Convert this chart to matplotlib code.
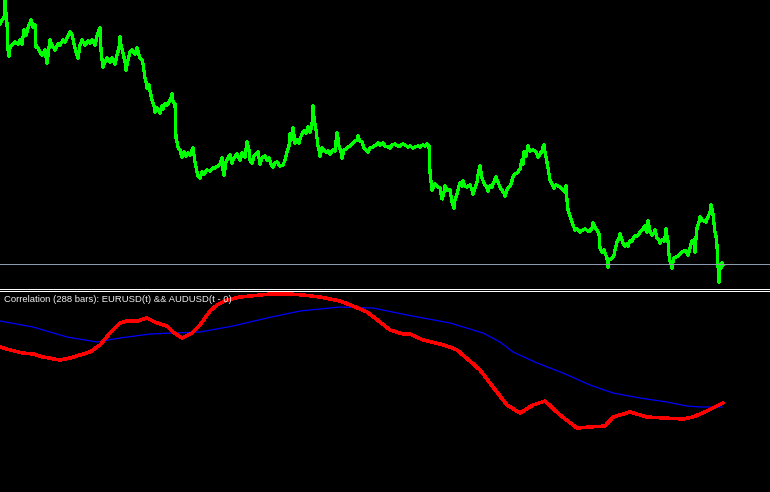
import matplotlib
matplotlib.use("Agg")
import matplotlib.pyplot as plt
from matplotlib.lines import Line2D

# ---- Price series (EURUSD close, expressed in pips above 1.3000) ----
bars = [0,2,4,5,6,7,8,9,10,12,15,18,20,22,24,26,28,31,33,35,36,38,40,42,45,47,49,50,52,55,58,60,63,65,68,70,72,74,75,77,78,80,82,85,88,90,92,95,97,99,
        100,101,102,103,105,107,110,112,115,117,119,120,121,123,125,126,128,130,132,135,137,140,142,143,145,146,147,149,150,152,154,155,157,160,162,163,165,167,169,171,172,173,175,176,177,178,180,182,184,186,188,190,192,193,195,197,198,
        200,202,204,207,210,213,215,218,220,222,223,224,226,228,230,232,234,237,240,242,245,247,249,250,252,254,256,258,260,262,265,267,269,271,273,275,277,280,283,285,287,289,290,291,293,295,297,299,
        300,302,304,306,308,310,312,313,314,316,318,319,320,322,324,326,328,330,333,335,337,338,339,341,342,344,346,348,350,352,355,357,358,360,362,364,366,368,370,373,376,378,380,383,385,388,390,392,395,398,
        400,403,405,408,410,413,415,418,420,423,425,427,429,430,431,432,433,435,437,440,442,444,445,447,450,452,454,455,457,459,460,462,463,465,467,470,472,473,475,477,478,480,481,482,484,486,488,490,492,493,496,498,
        500,502,504,505,507,508,510,511,513,515,517,520,522,523,524,526,528,530,533,536,538,540,542,543,544,545,546,548,550,552,554,556,558,560,563,565,566,567,568,570,572,573,575,577,580,583,585,588,590,592,593,595,597,599,
        600,602,604,605,607,608,609,611,613,614,615,617,619,620,622,623,625,627,628,630,632,633,635,637,639,640,642,643,645,646,647,648,649,650,652,654,655,657,659,660,662,664,665,666,667,668,669,670,671,672,673,674,676,678,680,682,684,686,688,689,690,691,692,694,695,696,697,699,
        700,702,704,706,707,708,710,711,712,713,714,715,716,717,718,719,720,721,722,723]
eurusd_pips = [266,270,272,289,276,266,240,234,242,245,248,246,250,246,260,255,262,270,263,265,243,242,238,235,240,227,242,250,245,240,246,245,250,248,254,258,255,246,242,235,232,245,250,245,249,247,250,245,254,260,
        262,240,230,223,228,232,228,232,226,235,242,253,245,237,228,220,230,238,240,236,242,232,230,226,212,208,202,205,199,190,184,178,182,177,184,181,186,185,188,192,196,189,186,152,148,143,140,133,138,134,137,135,140,142,128,118,114,
        112,118,116,120,119,122,122,124,126,132,120,115,128,132,135,127,132,136,130,137,133,148,140,130,127,134,136,138,126,132,134,130,132,126,123,127,128,124,125,130,138,144,156,150,162,147,150,147,
        151,156,159,157,163,158,165,184,172,160,144,140,134,142,140,138,139,136,140,139,157,152,144,138,132,140,141,143,144,146,149,150,154,149,148,142,140,138,142,143,145,147,145,147,144,143,142,145,146,144,
        144,146,145,143,144,142,143,144,143,145,144,146,144,118,108,100,102,106,104,102,91,98,104,100,100,88,82,90,96,104,107,104,109,104,103,105,100,96,102,108,115,124,118,112,107,104,99,104,103,106,113,108,
        103,100,97,94,100,102,104,106,113,116,117,121,130,126,138,134,144,139,140,138,133,136,139,143,145,138,133,122,110,106,102,105,104,103,100,98,104,90,80,74,68,65,60,61,58,60,61,59,59,62,67,63,60,56,
        42,38,40,37,32,23,30,31,33,35,40,48,52,56,50,47,44,46,44,49,49,51,54,54,56,58,60,61,64,60,58,69,64,59,55,57,60,52,50,47,50,49,52,61,54,49,35,29,27,22,28,32,33,34,36,38,39,39,35,38,42,46,49,50,38,52,62,68,
        73,70,69,68,71,73,78,85,81,76,66,58,54,44,24,8,24,22,27,25]
level_pips = 26

# ---- Correlation indicator ----
red_bars = [0,10,23,33,43,60,70,80,90,100,110,120,127,137,147,157,167,173,182,192,200,210,217,227,240,250,270,290,303,320,340,353,367,380,390,403,410,423,440,450,457,471,480,493,507,520,533,545,560,577,590,605,613,630,647,663,683,693,707,717,723]
red_corr = [0.45,0.42,0.39,0.38,0.35,0.32,0.34,0.37,0.40,0.47,0.59,0.69,0.71,0.71,0.74,0.69,0.66,0.60,0.54,0.59,0.67,0.81,0.87,0.92,0.95,0.96,0.98,0.98,0.97,0.95,0.91,0.86,0.80,0.70,0.62,0.58,0.58,0.52,0.48,0.45,0.42,0.30,0.22,0.05,-0.13,-0.21,-0.13,-0.09,-0.23,-0.36,-0.35,-0.34,-0.25,-0.20,-0.25,-0.26,-0.27,-0.25,-0.19,-0.14,-0.11]
blue_bars = [0,33,67,97,120,150,173,200,233,267,300,340,373,407,450,483,500,513,537,563,590,613,640,667,687,700,722]
blue_corr = [0.71,0.65,0.55,0.50,0.54,0.58,0.59,0.60,0.66,0.74,0.81,0.85,0.84,0.77,0.69,0.59,0.50,0.40,0.29,0.19,0.07,-0.01,-0.06,-0.10,-0.14,-0.15,-0.15]
label = "Correlation (288 bars): EURUSD(t) && AUDUSD(t - 0)"

price = [1.3 + p / 10000 for p in eurusd_pips]
level = 1.3 + level_pips / 10000

W, H = 770, 492
fig = plt.figure(figsize=(W / 100, H / 100), dpi=100, facecolor="black")

ax1 = fig.add_axes([0, 1 - 287 / H, 1, 287 / H])
ax1.set_facecolor("black")
ax1.plot(bars, price, color="#00FF00", lw=1.6, antialiased=False)
ax1.axhline(level, color="#8C9AB0", lw=0.72, antialiased=False)
ax1.set_xlim(0, 770)
ax1.set_ylim(1.3003, 1.3290)
ax1.axis("off")

ax2 = fig.add_axes([0, 0, 1, 200 / H])
ax2.set_facecolor("black")
ax2.plot(blue_bars, blue_corr, color="#0000FF", lw=0.9)
ax2.plot(red_bars, red_corr, color="#FF0000", lw=1.8, antialiased=False)
ax2.set_xlim(0, 770)
ax2.set_ylim(-1, 1)
ax2.axis("off")

fig.text(4 / W, 1 - 300 / H, label, color="#F0F0F0", fontsize=6.8,
         family="Liberation Sans", va="center", ha="left")

for ypx in (288.5, 290.5):
    fig.add_artist(Line2D([0, 1], [1 - ypx / H] * 2, color="white", lw=0.72,
                          transform=fig.transFigure))

fig.savefig("out.png", dpi=100, facecolor="black")
